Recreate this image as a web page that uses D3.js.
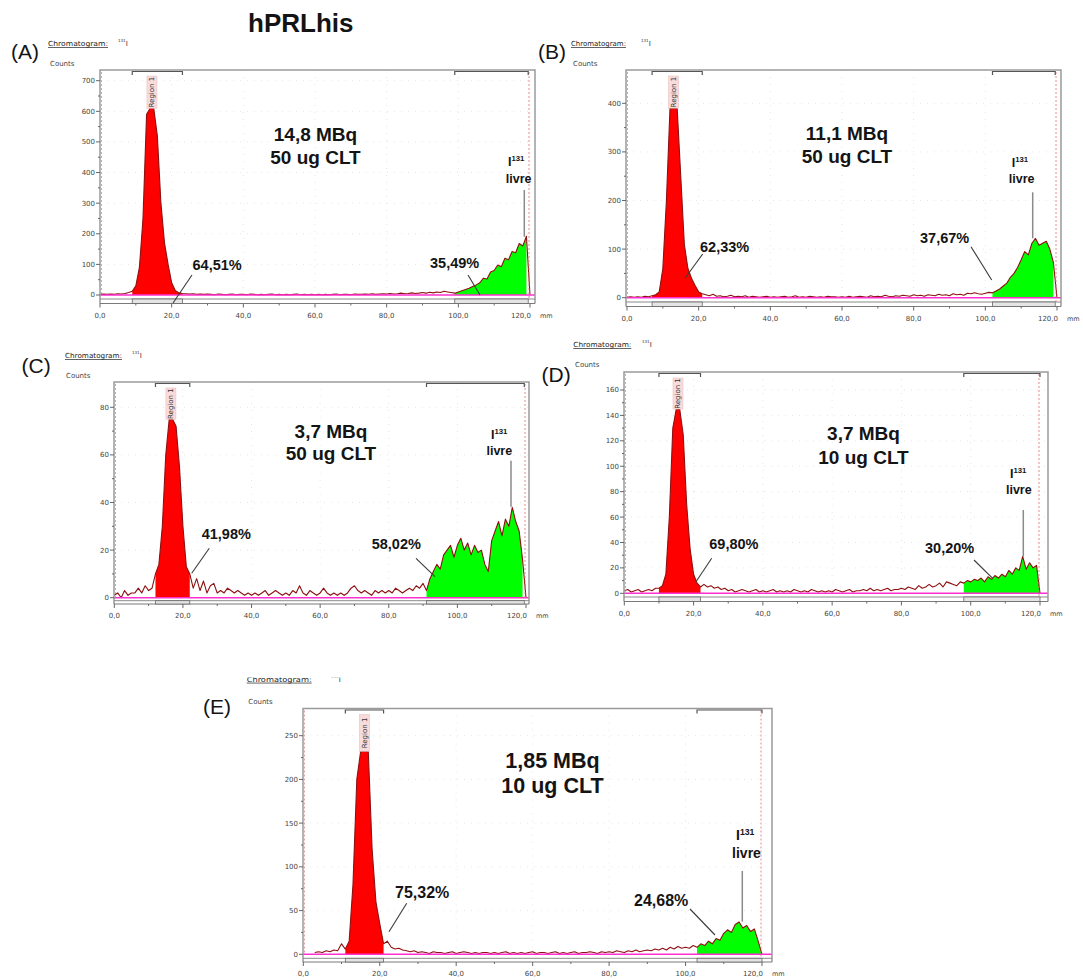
<!DOCTYPE html>
<html>
<head>
<meta charset="utf-8">
<script src="https://cdn.jsdelivr.net/npm/d3@7"></script>
<style>
  html, body { margin: 0; padding: 0; background: #fff; }
  svg { display: block; }
  .small { font-family: "DejaVu Sans", sans-serif; font-size: 7px; fill: #444; }
  .bold { font-family: "Liberation Sans", Arial, sans-serif; font-weight: bold; fill: #141414; }
  .letter { font-family: "Liberation Sans", Arial, sans-serif; font-size: 21px; fill: #141414; }
</style>
</head>
<body>
<svg id="CHART" width="1083" height="980"></svg>
<script>
// ---------- data (index of each value = position in mm) ----------
var countsA = [
  2, 3, 2, 3, 2, 4, 3, 5, 8, 12,
  30, 90, 250, 590, 610, 610, 520, 300, 170, 100,
  40, 15, 7, 5, 4, 3, 4, 2, 3, 2,
  3, 2, 1, 3, 2, 1, 2, 3, 1, 2,
  2, 1, 3, 2, 1, 2, 1, 2, 3, 1,
  2, 1, 2, 1, 2, 3, 1, 2, 1, 2,
  1, 2, 1, 2, 1, 2, 3, 1, 2, 2,
  1, 3, 2, 2, 3, 2, 4, 2, 3, 4,
  3, 5, 3, 4, 6, 4, 5, 7, 5, 6,
  8, 6, 9, 7, 10, 8, 12, 10, 8, 6,
  10, 14, 18, 22, 28, 33, 40, 55, 52, 75,
  80, 98, 92, 120, 115, 142, 138, 168, 160, 192,
  0
];
var countsB = [
  1, 2, 1, 2, 1, 3, 2, 4, 6, 12,
  60, 200, 390, 390, 390, 250, 110, 60, 40, 25,
  12, 8, 6, 4, 7, 3, 4, 2, 3, 5,
  2, 3, 2, 4, 1, 3, 2, 1, 2, 3,
  1, 2, 1, 2, 3, 1, 2, 4, 1, 2,
  1, 3, 2, 1, 2, 1, 3, 2, 2, 1,
  2, 1, 3, 1, 2, 3, 2, 1, 4, 2,
  3, 2, 5, 3, 2, 4, 3, 5, 4, 3,
  6, 4, 5, 3, 6, 5, 4, 7, 5, 6,
  4, 8, 6, 7, 5, 9, 8, 10, 8, 7,
  9, 11, 10, 14, 18, 24, 30, 42, 50, 62,
  78, 95, 88, 112, 122, 108, 112, 116, 100, 72,
  0
];
var countsC = [
  1, 2, 0, 3, 1, 2, 2, 4, 2, 5,
  3, 4, 10, 14, 30, 60, 75, 75, 72, 55,
  30, 13, 10, 4, 8, 3, 7, 2, 5, 6,
  2, 3, 2, 4, 3, 2, 3, 2, 1, 2,
  1, 2, 1, 2, 3, 1, 2, 3, 2, 1,
  2, 1, 3, 2, 5, 2, 1, 3, 2, 1,
  2, 4, 2, 1, 2, 1, 2, 1, 2, 4,
  5, 3, 2, 3, 2, 1, 3, 2, 3, 2,
  3, 2, 4, 3, 2, 3, 4, 3, 5, 4,
  6, 3, 8, 11, 14, 12, 18, 20, 22, 17,
  22, 25, 20, 23, 18, 22, 19, 20, 14, 11,
  24, 28, 32, 26, 33, 30, 38, 32, 28, 16,
  0
];
var countsD = [
  2, 3, 1, 2, 3, 1, 2, 3, 2, 4,
  4, 6, 15, 60, 130, 145, 145, 125, 70, 35,
  15, 8, 5, 7, 5, 6, 4, 5, 3, 4,
  2, 3, 1, 2, 3, 2, 1, 2, 3, 1,
  2, 1, 2, 3, 1, 2, 1, 2, 1, 3,
  2, 1, 2, 1, 3, 2, 1, 2, 1, 2,
  1, 3, 2, 1, 2, 3, 1, 2, 2, 3,
  2, 4, 2, 3, 2, 3, 4, 2, 3, 3,
  4, 3, 5, 4, 3, 6, 4, 5, 7, 5,
  6, 8, 5, 9, 8, 7, 6, 9, 8, 10,
  9, 11, 10, 12, 9, 13, 11, 14, 12, 15,
  13, 18, 15, 20, 18, 29, 19, 24, 20, 22,
  0
];
var countsE = [
  null, null, null, 2, 3, 2, 4, 3, 5, 4,
  12, 6, 15, 80, 200, 232, 232, 232, 120, 60,
  35, 12, 15, 8, 6, 7, 5, 4, 3, 4,
  2, 3, 2, 1, 3, 2, 2, 1, 2, 3,
  1, 2, 3, 2, 1, 2, 1, 2, 2, 1,
  2, 1, 2, 3, 1, 2, 1, 2, 1, 2,
  3, 1, 2, 2, 1, 2, 3, 1, 2, 1,
  2, 3, 1, 2, 2, 3, 2, 1, 3, 2,
  3, 2, 4, 3, 2, 4, 3, 5, 3, 4,
  5, 4, 6, 5, 7, 5, 8, 6, 9, 7,
  8, 7, 10, 8, 12, 10, 15, 12, 18, 16,
  24, 28, 25, 34, 37, 30, 33, 26, 29, 15,
  0
];

// regions in mm: [labelled complex, free iodine]
var regionsA = [[9, 23], [99, 119.5]];
var regionsB = [[7, 21], [102, 119.5]];
var regionsC = [[12, 22], [91, 119.5]];
var regionsD = [[10, 22], [98, 120]];
var regionsE = [[11, 21], [103, 120]];

var yTicksA = [0, 100, 200, 300, 400, 500, 600, 700];
var yTicksB = [0, 100, 200, 300, 400];
var yTicksC = [0, 20, 40, 60, 80];
var yTicksD = [0, 20, 40, 60, 80, 100, 120, 140, 160];
var yTicksE = [0, 50, 100, 150, 200, 250];

var xTicks = [0, 20, 40, 60, 80, 100, 120];
var xMinorTicks = [10, 30, 50, 70, 90, 110];
var xTickLabels = ["0,0", "20,0", "40,0", "60,0", "80,0", "100,0", "120,0"];

var panelLetters = ["(A)", "(B)", "(C)", "(D)", "(E)"];
var activities = ["14,8 MBq", "11,1 MBq", "3,7 MBq", "3,7 MBq", "1,85 MBq"];
var masses = ["50 ug CLT", "50 ug CLT", "50 ug CLT", "10 ug CLT", "10 ug CLT"];
var boundPct = ["64,51%", "62,33%", "41,98%", "69,80%", "75,32%"];
var freePct = ["35,49%", "37,67%", "58,02%", "30,20%", "24,68%"];

// ---------- layout ----------
var layout = [
  { frame: { left: 100, right: 535, top: 70, x0: 100, x120: 530, zeroY: 295, topTickY: 80.7, line2: 299, axisY: 303.5 },
    letter: [11, 58.5], chrom: [48, 46, 60], iso: [118, 46], counts: [50, 66],
    dose: [315.5, 141, 164, 19],
    pct1: [192.5, 270, 192, 275, 173, 303], pct2: [430, 268.3, 468, 275, 480, 295], pctSize: 14.5,
    free: [508, 166, 518.7, 183, 524.3, 190, 236.7, 12.5] },
  { frame: { left: 626, right: 1061, top: 70, x0: 627, x120: 1057, zeroY: 297.7, topTickY: 103.3, line2: 302, axisY: 306.5 },
    letter: [538, 59], chrom: [571, 46, 55], iso: [641, 46], counts: [573, 66],
    dose: [847, 140, 163, 19],
    pct1: [700, 251.7, 702.7, 254, 685, 278.3], pct2: [920, 242.7, 971, 246.7, 991.7, 280], pctSize: 14.5,
    free: [1011.7, 167.3, 1021.7, 183.3, 1032.7, 192.3, 238.3, 12.5] },
  { frame: { left: 114, right: 529, top: 382, x0: 114.3, x120: 526, zeroY: 597.7, topTickY: 407.3, line2: 600.7, axisY: 604 },
    letter: [21.5, 373], chrom: [65, 358.3, 57], iso: [132, 358.3], counts: [66, 377.7],
    dose: [331, 438, 460, 19],
    pct1: [201.7, 539.3, 209.3, 548.3, 191.7, 573.3], pct2: [371.7, 549.3, 416, 558.3, 435, 576.7], pctSize: 14.5,
    free: [491, 439.3, 499.3, 455, 511, 460.7, 506.7, 12.5] },
  { frame: { left: 624, right: 1048, top: 372, x0: 624.3, x120: 1040, zeroY: 593.3, topTickY: 390, line2: 597, axisY: 601.5 },
    letter: [541.5, 382], chrom: [573.3, 347.3, 58], iso: [642, 347.3], counts: [575, 367.3],
    dose: [863.5, 440, 463.5, 19],
    pct1: [709.3, 549.3, 711.7, 558.3, 696, 581.7], pct2: [925, 553.3, 974, 560, 992.7, 578.3], pctSize: 14.5,
    free: [1010, 478.3, 1018.8, 494, 1023.3, 510, 556.7, 12.5] },
  { frame: { left: 303, right: 772, top: 708.5, x0: 303.3, x120: 762, zeroY: 954.3, topTickY: 735.7, line2: 958.3, axisY: 962 },
    letter: [203, 714], chrom: [246.7, 681.7, 65], iso: [331, 681.7], counts: [248.3, 704.3],
    dose: [552.5, 768.3, 792.5, 21.5],
    pct1: [395, 898.3, 406.7, 903.3, 389, 931.7], pct2: [634, 905.7, 690, 909, 715, 935], pctSize: 16,
    free: [736, 840, 746.5, 857.7, 742.3, 871, 921.7, 14] }
];

var panels = [
  { key: "A", counts: countsA, regions: regionsA, yTicks: yTicksA },
  { key: "B", counts: countsB, regions: regionsB, yTicks: yTicksB },
  { key: "C", counts: countsC, regions: regionsC, yTicks: yTicksC },
  { key: "D", counts: countsD, regions: regionsD, yTicks: yTicksD },
  { key: "E", counts: countsE, regions: regionsE, yTicks: yTicksE }
];

var svg = d3.select("#CHART");
var defs = svg.append("defs");
svg.append("rect").attr("width", 1083).attr("height", 980).attr("fill", "#fff");

svg.append("text").attr("class", "bold").attr("x", 248).attr("y", 32)
  .style("font-size", "26px").text("hPRLhis");

var fillColors = ["#ff0000", "#00ff00"];

panels.forEach(function (p, i) {
  var L = layout[i];
  var f = L.frame;
  var g = svg.append("g").attr("class", "panel-" + p.key);

  var x = d3.scaleLinear().domain([0, 120]).range([f.x0, f.x120]);
  var yTop = p.yTicks[p.yTicks.length - 1];
  var y = d3.scaleLinear().domain([0, yTop]).range([f.zeroY, f.topTickY]);
  var pts = p.counts.map(function (v, k) { return { mm: k, v: v }; });

  var clipId = "clip-" + p.key;
  defs.append("clipPath").attr("id", clipId).append("rect")
    .attr("x", f.left).attr("y", f.top)
    .attr("width", f.right - f.left).attr("height", f.zeroY + 1 - f.top);

  // faint grid
  var grid = g.append("g").attr("stroke", "#e6e6e6").attr("stroke-dasharray", "1,6");
  grid.selectAll("line.gx").data(xTicks.slice(1, -1)).join("line")
    .attr("x1", function (d) { return x(d); }).attr("x2", function (d) { return x(d); })
    .attr("y1", f.top).attr("y2", f.zeroY);
  grid.selectAll("line.gy").data(p.yTicks.slice(1)).join("line")
    .attr("y1", function (d) { return y(d); }).attr("y2", function (d) { return y(d); })
    .attr("x1", f.left).attr("x2", f.right);

  var plot = g.append("g").attr("clip-path", "url(#" + clipId + ")");

  // region fills
  p.regions.forEach(function (r, k) {
    var area = d3.area()
      .defined(function (d) { return d.v != null && d.mm >= r[0] && d.mm <= r[1]; })
      .x(function (d) { return x(d.mm); })
      .y0(y(0))
      .y1(function (d) { return y(d.v); });
    plot.append("path").datum(pts).attr("d", area).attr("fill", fillColors[k]);
  });

  // trace
  var line = d3.line()
    .defined(function (d) { return d.v != null; })
    .x(function (d) { return x(d.mm); })
    .y(function (d) { return y(d.v); });
  plot.append("path").datum(pts).attr("d", line)
    .attr("fill", "none").attr("stroke", "#8e1010").attr("stroke-width", 1.1)
    .attr("stroke-linejoin", "round");

  // baseline
  g.append("line").attr("x1", f.left).attr("x2", f.right)
    .attr("y1", y(0)).attr("y2", y(0))
    .attr("stroke", "#ff2fd0").attr("stroke-width", 1.5);

  // "Region 1" label on top of peak
  var r1 = p.regions[0];
  var inPeak = pts.filter(function (d) { return d.v != null && d.mm >= r1[0] && d.mm <= r1[1]; });
  var peakMax = d3.max(inPeak, function (d) { return d.v; });
  var peakMm = d3.mean(inPeak.filter(function (d) { return d.v === peakMax; }), function (d) { return d.mm; });
  var boxTop = f.top + 6;
  var boxBottom = y(peakMax);
  g.append("rect").attr("x", x(peakMm) - 5).attr("y", boxTop)
    .attr("width", 10).attr("height", boxBottom - boxTop)
    .attr("fill", "#f8dcdc").attr("stroke", "#e8b8b8").attr("stroke-width", 0.5);
  g.append("text").attr("class", "small")
    .attr("transform", "translate(" + (x(peakMm) + 2.5) + "," + ((boxTop + boxBottom) / 2) + ") rotate(-90)")
    .attr("text-anchor", "middle").style("font-size", "7px").style("fill", "#333")
    .text("Region 1");

  // frame
  var frame = g.append("g").attr("fill", "none");
  frame.append("path")
    .attr("d", "M" + f.left + "," + f.axisY + "V" + f.top + "H" + f.right + "V" + f.axisY)
    .attr("stroke", "#9a9a9a").attr("stroke-width", 1.5);
  frame.append("line").attr("x1", f.left).attr("x2", f.right)
    .attr("y1", f.line2).attr("y2", f.line2).attr("stroke", "#8a8a8a").attr("stroke-width", 1);
  frame.append("line").attr("x1", f.left).attr("x2", f.right)
    .attr("y1", f.axisY).attr("y2", f.axisY).attr("stroke", "#7a7a7a").attr("stroke-width", 1.2);
  frame.append("line").attr("x1", x(120) - 1).attr("x2", x(120) - 1)
    .attr("y1", f.top + 2).attr("y2", f.line2)
    .attr("stroke", "#e07070").attr("stroke-width", 0.8).attr("stroke-dasharray", "2,2");
  frame.append("line").attr("x1", f.left + 1.5).attr("x2", f.left + 1.5)
    .attr("y1", f.top + 2).attr("y2", f.zeroY)
    .attr("stroke", "#d08080").attr("stroke-width", 0.7).attr("stroke-dasharray", "2,2");

  // region brackets (top and bottom)
  p.regions.forEach(function (r) {
    frame.append("path")
      .attr("d", "M" + x(r[0]) + "," + (f.top + 5) + "V" + (f.top + 1.5) + "H" + x(r[1]) + "V" + (f.top + 5))
      .attr("stroke", "#555").attr("stroke-width", 1.2);
    frame.append("rect").attr("x", x(r[0])).attr("y", f.line2)
      .attr("width", x(r[1]) - x(r[0])).attr("height", f.axisY - f.line2)
      .attr("fill", "#e4e4e4").attr("stroke", "#666").attr("stroke-width", 0.8);
  });

  // x axis ticks
  var ax = g.append("g").attr("stroke", "#666");
  ax.selectAll("line.mj").data(xTicks).join("line")
    .attr("x1", function (d) { return x(d); }).attr("x2", function (d) { return x(d); })
    .attr("y1", f.axisY).attr("y2", f.axisY + 4);
  ax.selectAll("line.mn").data(xMinorTicks).join("line")
    .attr("x1", function (d) { return x(d); }).attr("x2", function (d) { return x(d); })
    .attr("y1", f.axisY).attr("y2", f.axisY + 2);
  var lastTick = xTicks[xTicks.length - 1];
  g.selectAll("text.xl").data(xTicks).join("text").attr("class", "small")
    .attr("x", function (d) { return d === lastTick ? x(d) + 1 : x(d); })
    .attr("y", f.axisY + 14)
    .attr("text-anchor", function (d) { return d === lastTick ? "end" : "middle"; })
    .text(function (d, k) { return xTickLabels[k]; });
  g.append("text").attr("class", "small").attr("x", x(lastTick) + 10).attr("y", f.axisY + 14)
    .style("font-size", "6.5px").text("mm");

  // y axis ticks
  var minors = d3.pairs(p.yTicks).map(function (pr) { return (pr[0] + pr[1]) / 2; });
  ax.selectAll("line.ymj").data(p.yTicks).join("line")
    .attr("x1", f.left - 4).attr("x2", f.left)
    .attr("y1", function (d) { return y(d); }).attr("y2", function (d) { return y(d); });
  ax.selectAll("line.ymn").data(minors).join("line")
    .attr("x1", f.left - 2).attr("x2", f.left)
    .attr("y1", function (d) { return y(d); }).attr("y2", function (d) { return y(d); });
  g.selectAll("text.yl").data(p.yTicks).join("text").attr("class", "small")
    .attr("x", f.left - 5).attr("y", function (d) { return y(d); }).attr("dy", "0.35em")
    .attr("text-anchor", "end").text(function (d) { return d; });

  // panel heading texts
  g.append("text").attr("class", "letter").attr("x", L.letter[0]).attr("y", L.letter[1]).text(panelLetters[i]);

  var chromG = g.append("g");
  if (p.key === "E") {
    var cid = "clip-chrom-E";
    defs.append("clipPath").attr("id", cid).append("rect")
      .attr("x", 200).attr("y", 677.5).attr("width", 200).attr("height", 20);
    chromG.attr("clip-path", "url(#" + cid + ")");
  }
  chromG.append("text").attr("class", "small").attr("x", L.chrom[0]).attr("y", L.chrom[1])
    .attr("textLength", L.chrom[2]).attr("lengthAdjust", "spacingAndGlyphs")
    .style("text-decoration", "underline").style("font-size", "7px").style("fill", "#222")
    .text("Chromatogram:");
  var iso = chromG.append("text").attr("class", "small").attr("x", L.iso[0]).attr("y", L.iso[1])
    .style("fill", "#333");
  iso.append("tspan").attr("dy", -4).style("font-size", "4px").text("131");
  iso.append("tspan").attr("dy", 4).style("font-size", "7px").text("I");

  g.append("text").attr("class", "small").attr("x", L.counts[0]).attr("y", L.counts[1])
    .text("Counts");

  // dose annotation
  g.append("text").attr("class", "bold").attr("x", L.dose[0]).attr("y", L.dose[1])
    .attr("text-anchor", "middle").style("font-size", L.dose[3] + "px").text(activities[i]);
  g.append("text").attr("class", "bold").attr("x", L.dose[0]).attr("y", L.dose[2])
    .attr("text-anchor", "middle").style("font-size", L.dose[3] + "px").text(masses[i]);

  // percentage annotations with leader lines
  [[L.pct1, boundPct[i]], [L.pct2, freePct[i]]].forEach(function (a) {
    var q = a[0];
    g.append("text").attr("class", "bold").attr("x", q[0]).attr("y", q[1])
      .style("font-size", L.pctSize + "px").text(a[1]);
    g.append("line").attr("x1", q[2]).attr("y1", q[3]).attr("x2", q[4]).attr("y2", q[5])
      .attr("stroke", "#3a3a3a").attr("stroke-width", 1.1);
  });

  // free iodine label
  var fr = L.free;
  var it = g.append("text").attr("class", "bold").attr("x", fr[0]).attr("y", fr[1])
    .style("font-size", fr[7] + "px");
  it.append("tspan").text("I");
  it.append("tspan").attr("dy", -5).style("font-size", (fr[7] * 0.62) + "px").text("131");
  g.append("text").attr("class", "bold").attr("x", fr[2]).attr("y", fr[3])
    .attr("text-anchor", "middle").style("font-size", fr[7] + "px").text("livre");
  g.append("line").attr("x1", fr[4]).attr("x2", fr[4]).attr("y1", fr[5]).attr("y2", fr[6])
    .attr("stroke", "#8a8a8a").attr("stroke-width", 1.5);
});
</script>
</body>
</html>
